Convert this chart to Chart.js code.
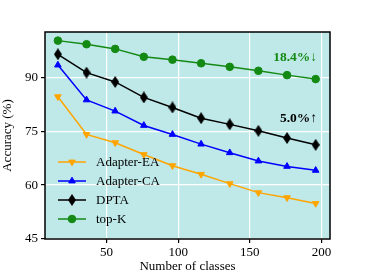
<!DOCTYPE html>
<html>
<head>
<meta charset="utf-8">
<script src="https://cdn.jsdelivr.net/npm/chart.js@4/dist/chart.umd.min.js"></script>
<style>
  html, body { margin: 0; padding: 0; background: #fff; }
  #wrap { width: 366px; height: 274px; }
</style>
</head>
<body>
<div id="wrap"><canvas id="accChart"></canvas></div>
<script>
// ------------------- DATA -------------------
const classes = [16, 36, 56, 76, 96, 116, 136, 156, 176, 196];
const adapterEA = [84.6, 74.1, 71.8, 68.5, 65.4, 63.0, 60.4, 57.9, 56.5, 54.9];
const adapterCA = [93.4, 83.7, 80.6, 76.6, 74.1, 71.4, 69.0, 66.7, 65.2, 64.1];
const dpta = [96.4, 91.3, 88.7, 84.4, 81.6, 78.6, 76.9, 75.1, 73.1, 71.2];
const topK = [100.2, 99.2, 97.9, 95.7, 94.9, 93.9, 92.9, 91.8, 90.6, 89.5];
const xTicks = [50, 100, 150, 200];
const yTicks = [45, 60, 75, 90];
const notes = [
  { text: "18.4%\u2193", x: 197, y: 95.4, color: "#138a13" },
  { text: "5.0%\u2191", x: 197, y: 78.4, color: "#000" }
];

const FONT = "'Liberation Serif', 'Times New Roman', serif";

// thin diamond marker
function makeDiamond() {
  const c = document.createElement("canvas");
  c.width = 8; c.height = 12;
  const g = c.getContext("2d");
  g.fillStyle = "#000";
  g.beginPath();
  g.moveTo(4, 0); g.lineTo(8, 6); g.lineTo(4, 12); g.lineTo(0, 6);
  g.closePath(); g.fill();
  return c;
}
const diamond = makeDiamond();

function series(label, values, color, style, rot) {
  return {
    label: label,
    data: classes.map((x, i) => ({ x: x, y: values[i] })),
    borderColor: color,
    backgroundColor: color,
    borderWidth: 1.5,
    pointStyle: style,
    pointRotation: rot || 0,
    pointRadius: 3.8,
    pointBorderWidth: 1,
    tension: 0
  };
}

// ------------------- PLUGINS -------------------
const frame = {
  id: "frame",
  beforeDraw(chart) {
    const a = chart.chartArea, ctx = chart.ctx;
    ctx.save();
    ctx.fillStyle = "#bfe8e8";
    ctx.fillRect(a.left, a.top, a.right - a.left, a.bottom - a.top);
    ctx.restore();
  },
  afterDraw(chart) {
    const a = chart.chartArea, ctx = chart.ctx;
    ctx.save();
    ctx.strokeStyle = "#000";
    ctx.lineWidth = 1.5;
    ctx.strokeRect(a.left, a.top, a.right - a.left, a.bottom - a.top);

    // annotations
    const xs = chart.scales.x, ys = chart.scales.y;
    ctx.font = "bold 13.5px " + FONT;
    ctx.textAlign = "right";
    ctx.textBaseline = "middle";
    notes.forEach(n => {
      ctx.fillStyle = n.color;
      ctx.fillText(n.text, xs.getPixelForValue(n.x), ys.getPixelForValue(n.y));
    });

    // legend (lower left)
    ctx.font = "13px " + FONT;
    ctx.textAlign = "left";
    [0, 1, 2, 3].forEach((di, r) => {
      const ds = chart.data.datasets[di];
      const y = a.top + 130 + r * 19;
      const x0 = a.left + 13, x1 = a.left + 41;
      ctx.strokeStyle = ds.borderColor;
      ctx.lineWidth = 1.5;
      ctx.beginPath(); ctx.moveTo(x0, y); ctx.lineTo(x1, y); ctx.stroke();
      ctx.fillStyle = ds.backgroundColor;
      ctx.lineWidth = 1;
      Chart.helpers.drawPoint(ctx, {
        pointStyle: ds.pointStyle, rotation: ds.pointRotation,
        radius: 3.8, borderWidth: 1
      }, (x0 + x1) / 2, y);
      ctx.fillStyle = "#000";
      ctx.fillText(ds.label, a.left + 51, y + 1);
    });
    ctx.restore();
  }
};

// ------------------- CHART -------------------
const ctx = document.getElementById("accChart").getContext("2d");

new Chart(ctx, {
  type: "line",
  data: {
    datasets: [
      series("Adapter-EA", adapterEA, "#ffa500", "triangle", 180),
      series("Adapter-CA", adapterCA, "#0000ff", "triangle"),
      series("DPTA", dpta, "#000000", diamond),
      series("top-K", topK, "#138a13", "circle")
    ]
  },
  options: {
    responsive: true,
    maintainAspectRatio: false,
    animation: false,
    layout: { padding: { top: 32, right: 36, left: 0, bottom: 0 } },
    plugins: {
      legend: { display: false },
      tooltip: { enabled: false }
    },
    scales: {
      x: {
        type: "linear",
        min: 7,
        max: 206,
        afterBuildTicks: s => { s.ticks = xTicks.map(v => ({ value: v })); },
        afterFit: s => { s.height = 35; },
        grid: { color: "#ffffff", lineWidth: 1.2, tickColor: "#000", tickLength: 4, tickWidth: 1.2 },
        border: { display: false },
        ticks: { color: "#000", font: { family: FONT, size: 13 }, padding: 2, maxRotation: 0 },
        title: { display: true, text: "Number of classes", color: "#000", font: { family: FONT, size: 13 }, padding: { top: 2, bottom: 0 } }
      },
      y: {
        min: 45,
        max: 102.6,
        afterBuildTicks: s => { s.ticks = yTicks.map(v => ({ value: v })); },
        afterFit: s => { s.width = 45; },
        grid: { color: "#ffffff", lineWidth: 1.2, tickColor: "#000", tickLength: 4, tickWidth: 1.2 },
        border: { display: false },
        ticks: { color: "#000", font: { family: FONT, size: 13 }, padding: 3 },
        title: { display: true, text: "Accuracy (%)", color: "#000", font: { family: FONT, size: 13 }, padding: { top: 0, bottom: 2 } }
      }
    }
  },
  plugins: [frame]
});
</script>
</body>
</html>
